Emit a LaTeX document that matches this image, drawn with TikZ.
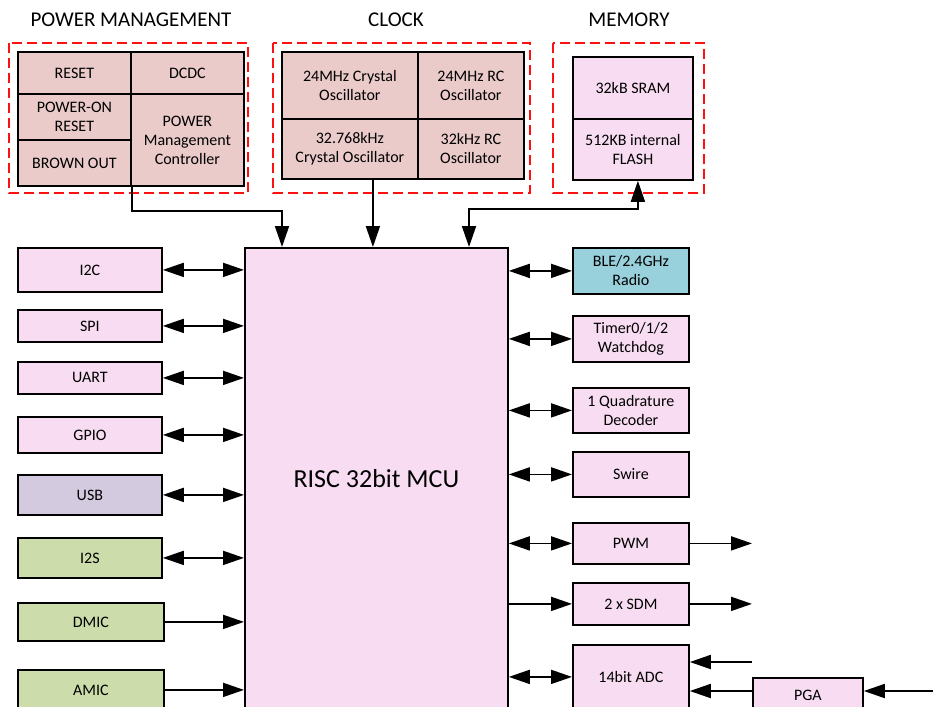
\documentclass[tikz,border=0pt]{standalone}
\usepackage{fontspec}
\setmainfont{Carlito}
\usetikzlibrary{arrows.meta,calc}
\definecolor{mcupink}{HTML}{F8DDF2}
\definecolor{pwrrose}{HTML}{EACBCA}
\definecolor{usbviolet}{HTML}{D3CAE0}
\definecolor{audiogreen}{HTML}{CCDCAA}
\definecolor{radioteal}{HTML}{98D0DC}
\definecolor{grpred}{HTML}{FF1010}
\tikzset{
  blk/.style={draw, line width=1.8pt, inner sep=0pt, anchor=north west, align=center,
              font=\fontsize{16}{19}\selectfont},
  cell/.style={blk, fill=pwrrose},
  periph/.style={blk, fill=mcupink, minimum width=144pt},
  rperiph/.style={blk, fill=mcupink, minimum width=116pt},
  grp/.style={draw=grpred, line width=1.7pt, dash pattern=on 10pt off 5pt},
  grptitle/.style={anchor=base, font=\fontsize{21}{25}\selectfont},
  arr/.style={line width=1.8pt, -{Triangle[length=21pt,width=14pt]}},
  darr/.style={line width=1.8pt, {Triangle[length=21pt,width=14pt]}-{Triangle[length=21pt,width=14pt]}}
}
\begin{document}
\begin{tikzpicture}[x=1pt,y=-1pt]
    \useasboundingbox (0,0) rectangle (933,706);
    \clip (0,0) rectangle (933,706);
    % group titles
    \node[grptitle] (pwrtitle) at (131,27) {POWER MANAGEMENT};
    \node[grptitle] (clktitle) at (396,27) {CLOCK};
    \node[grptitle] (memtitle) at (629,27) {MEMORY};
    % dashed group frames
    \draw[grp] (9,43) rectangle (248,193); % power
    \draw[grp] (273,43) rectangle (530,193); % clock
    \draw[grp] (553,43) rectangle (704,193); % memory
    % power management cells
    \node[cell, minimum width=113pt, minimum height=42pt] (reset) at (17,51) {RESET};
    \node[cell, minimum width=113pt, minimum height=46pt] (por) at (17,93) {POWER-ON\\RESET};
    \node[cell, minimum width=113pt, minimum height=46pt] (brown) at (17,139) {BROWN OUT};
    \node[cell, minimum width=113pt, minimum height=42pt] (dcdc) at (130,51) {DCDC};
    \node[cell, minimum width=113pt, minimum height=92pt] (pmc) at (130,93) {POWER\\Management\\Controller};
    % clock cells
    \node[cell, minimum width=136pt, minimum height=67pt] (xtal24) at (281,51) {24MHz Crystal\\Oscillator};
    \node[cell, minimum width=106pt, minimum height=67pt] (rc24) at (417,51) {24MHz RC\\Oscillator};
    \node[cell, minimum width=136pt, minimum height=60pt] (xtal32) at (281,118) {32.768kHz\\Crystal Oscillator};
    \node[cell, minimum width=106pt, minimum height=60pt] (rc32) at (417,118) {32kHz RC\\Oscillator};
    % memory cells
    \node[rperiph, minimum width=120pt, minimum height=62pt] (sram) at (572,56) {32kB SRAM};
    \node[rperiph, minimum width=120pt, minimum height=61pt] (flash) at (572,118) {512KB internal\\FLASH};
    % the core
    \node[blk, fill=mcupink, minimum width=263pt, minimum height=462pt,
          font=\fontsize{26}{31}\selectfont] (mcu) at (244,247) {RISC 32bit MCU};
    % left peripherals
    \node[periph, minimum height=44pt] (i2c) at (17,247) {I2C};
    \node[periph, minimum height=32pt] (spi) at (17,309) {SPI};
    \node[periph, minimum height=32pt] (uart) at (17,361) {UART};
    \node[periph, minimum height=36pt] (gpio) at (17,416) {GPIO};
    \node[periph, fill=usbviolet, minimum height=40pt] (usb) at (17,474) {USB};
    \node[periph, fill=audiogreen, minimum height=40pt] (i2s) at (17,537) {I2S};
    \node[periph, fill=audiogreen, minimum width=146pt, minimum height=38pt] (dmic) at (17,602) {DMIC};
    \node[periph, fill=audiogreen, minimum width=146pt, minimum height=40pt] (amic) at (17,669) {AMIC};
    % right peripherals
    \node[rperiph, fill=radioteal, minimum height=46pt] (ble) at (572,247) {BLE/2.4GHz\\Radio};
    \node[rperiph, minimum height=46pt] (timer) at (572,315) {Timer0/1/2\\Watchdog};
    \node[rperiph, minimum height=45pt] (quad) at (572,387) {1 Quadrature\\Decoder};
    \node[rperiph, minimum height=45pt] (swire) at (572,451) {Swire};
    \node[rperiph, minimum height=41pt] (pwm) at (572,522) {PWM};
    \node[rperiph, minimum height=42pt] (sdm) at (572,582) {2 x SDM};
    \node[rperiph, minimum height=64pt] (adc) at (572,644) {14bit ADC};
    \node[rperiph, minimum width=110pt, minimum height=34pt] (pga) at (752,677) {PGA};
    % free ends
    \coordinate (pwmout) at (752,543);
    \coordinate (sdmout) at (752,603);
    \coordinate (adcin) at (752,662);
    \coordinate (pgain) at (933,691);
    % buses into the core
    \draw[arr] (brown.south east) -- ++(0,24) -| ([xshift=38pt]mcu.north west); % power
    \draw[arr] ([xshift=23pt]xtal32.south) -- ([xshift=23pt]xtal32.south |- mcu.north); % clock
    \draw[darr] ([xshift=225pt]mcu.north west) -- ++(0,-38) -| ([xshift=5pt]flash.south); % memory
    \foreach \n in {i2c,spi,uart,gpio,usb,i2s}
        \draw[darr] (\n.east) -- (\n.east -| mcu.west);
    \foreach \n in {dmic,amic}
        \draw[arr] (\n.east) -- (\n.east -| mcu.west);
    \foreach \n in {ble,timer,quad,swire,pwm,adc}
        \draw[darr] (\n.west -| mcu.east) -- (\n.west);
    \draw[arr] (sdm.west -| mcu.east) -- (sdm.west);
    % outputs and analog inputs
    \draw[arr] (pwm.east) -- (pwm.east -| pwmout);
    \draw[arr] (sdm.east) -- (sdm.east -| sdmout);
    \draw[arr] (adcin) -- (adcin -| adc.east);
    \draw[arr] ([yshift=-14pt]pga.north west) -- ([yshift=-14pt]pga.north west -| adc.east);
    \draw[arr] (pgain) -- (pgain -| pga.east);
\end{tikzpicture}
\end{document}
